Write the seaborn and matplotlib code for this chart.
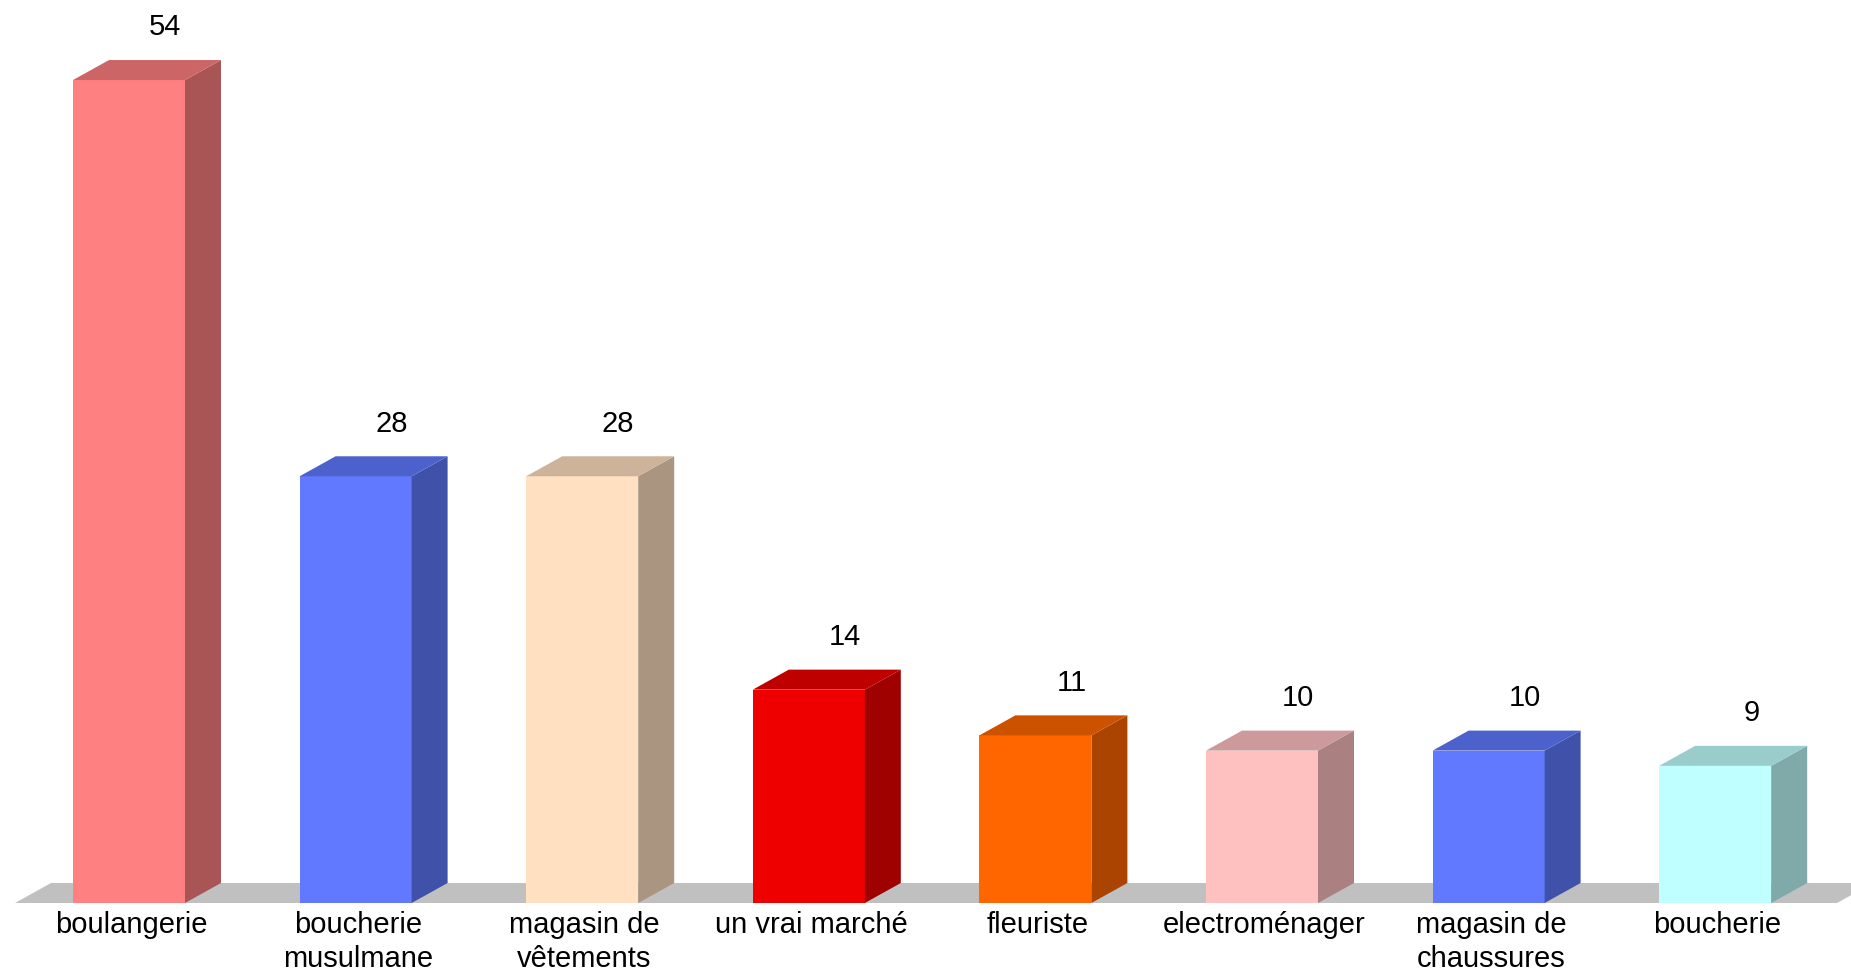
import matplotlib
matplotlib.use("Agg")
import seaborn as sns
import pandas as pd
import matplotlib.pyplot as plt
from matplotlib.patches import Polygon
from matplotlib.colors import to_rgb

sns.set_style("white")
plt.rcParams['font.family'] = ['Liberation Sans', 'DejaVu Sans']

categories = ["boulangerie", "boucherie\nmusulmane", "magasin de\nvêtements", "un vrai marché",
              "fleuriste", "electroménager", "magasin de\nchaussures", "boucherie"]
values = [54, 28, 28, 14, 11, 10, 10, 9]
front_colors = ["#FF8080", "#6079FF", "#FFE0C0", "#EE0000",
                "#FF6600", "#FFC0C0", "#6079FF", "#C0FFFF"]

# pixel geometry of the reference
PX_X = 226.6      # pixels per category
PX_Y = 15.24      # pixels per unit
DX = 36 / PX_X    # depth offset in data units
DY = 20 / PX_Y

df = pd.DataFrame({"cat": categories, "val": values})

fig = plt.figure(figsize=(18.51, 9.74), dpi=100)
ax = fig.add_axes([0, 0, 1, 1])

sns.barplot(data=df, x="cat", y="val", hue="cat", palette=front_colors, saturation=1,
            width=112 / PX_X, linewidth=0, legend=False, ax=ax, zorder=2)

bars = sorted(ax.patches, key=lambda p: p.get_x())

def shade(c, f):
    r, g, b = to_rgb(c)[:3]
    return (r * f, g * f, b * f)

for bar, val in zip(bars, values):
    x0 = bar.get_x()
    x1 = x0 + bar.get_width()
    h = bar.get_height()
    fc = bar.get_facecolor()
    side = Polygon([(x1, 0), (x1 + DX, DY), (x1 + DX, h + DY), (x1, h)],
                   closed=True, facecolor=shade(fc, 0.667), edgecolor='none', zorder=2)
    top = Polygon([(x0, h), (x0 + DX, h + DY), (x1 + DX, h + DY), (x1, h)],
                  closed=True, facecolor=shade(fc, 0.8), edgecolor='none', zorder=2)
    ax.add_patch(side)
    ax.add_patch(top)
    ax.text((x0 + x1) / 2 + DX, h + DY + 2.15, str(val), ha='center', va='center',
            fontsize=21, color='black')

# floor
fl_left = (15 - 129) / PX_X
fl_right = (1837 - 129) / PX_X
floor = Polygon([(fl_left, 0), (fl_left + DX, DY), (fl_right + DX, DY), (fl_right, 0)],
                closed=True, facecolor='#C0C0C0', edgecolor='none', zorder=0)
ax.add_patch(floor)

for i, cat in enumerate(categories):
    ax.text(i + 0.01, -0.55, cat, ha='center', va='top', fontsize=21,
            color='black', linespacing=1.25)

ax.set_xlim(-129 / PX_X, (1851 - 129) / PX_X)
ax.set_ylim(-(974 - 903) / PX_Y, 903 / PX_Y)
ax.set_axis_off()

fig.savefig("out.png", dpi=100)
